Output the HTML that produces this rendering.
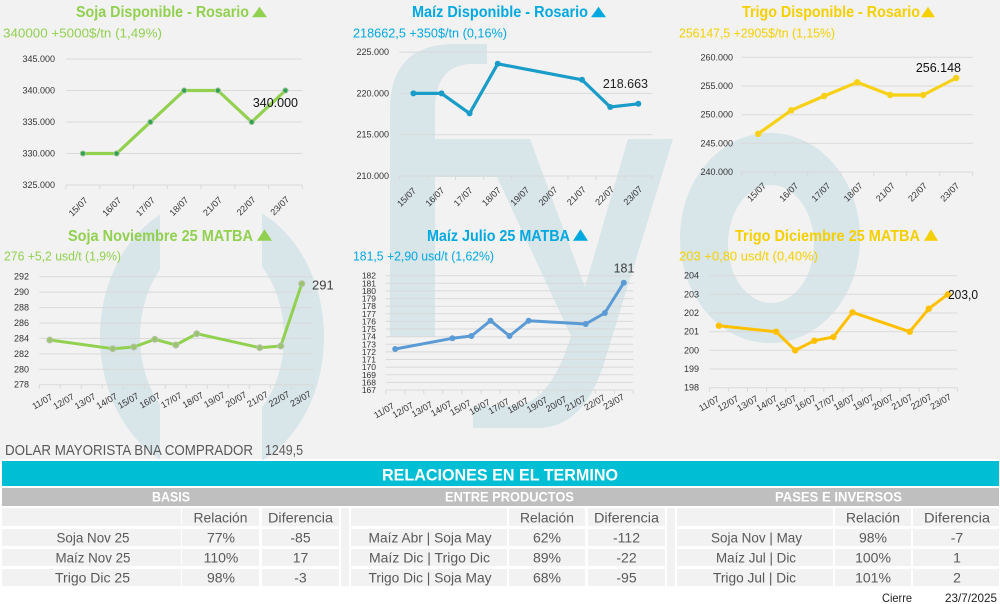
<!DOCTYPE html>
<html>
<head>
<meta charset="utf-8">
<style>
html,body{margin:0;padding:0;background:#fff;}
svg{display:block;}
text{font-family:"Liberation Sans",sans-serif;}
.ax{font-size:9px;fill:#333;}
.ax5{font-size:8.5px;fill:#333;}
.xl{font-size:9px;fill:#333;}
.grid{stroke:#d9d9d9;stroke-width:1;fill:none;}
.tt{font-size:16px;font-weight:bold;}
.st{font-size:13px;}
.cell{font-size:14px;fill:#595959;text-anchor:middle;}
.hd{font-size:14px;font-weight:bold;fill:#fff;text-anchor:middle;}
</style>
</head>
<body>
<svg width="1000" height="604" viewBox="0 0 1000 604">
<rect width="1000" height="604" fill="#fff"/>
<rect width="1000" height="459" fill="#f2f2f2"/>

<!-- watermark -->
<defs>
<clipPath id="cl"><rect x="0" y="200" width="160" height="260"/><rect x="262" y="200" width="80" height="260"/></clipPath>
</defs>
<g fill="#d8e5e9">
<path d="M390,337 L390,110 Q390,44 455,44 L487,44 L487,64 L470,64 Q435,66 435,110 L435,337 Z"/>
<path d="M435,139 L530,139 L585,287 L628,139 L673,139 L605,360 Q585,428 537,428 L473,428 L473,407 L520,405 Q552,398 571,336 L497,177 L435,177 Z"/>
<path fill-rule="evenodd" d="M680,238 a90,105 0 1,0 180,0 a90,105 0 1,0 -180,0 Z M728,244 a43,59 0 1,0 86,0 a43,59 0 1,0 -86,0 Z"/>
</g>
<ellipse cx="212" cy="337" rx="92" ry="118" fill="none" stroke="#d8e5e9" stroke-width="40" clip-path="url(#cl)"/>

<!-- ============ CHART 1 Soja Disponible ============ -->
<text class="tt" x="76" y="17" fill="#92d050" textLength="173" lengthAdjust="spacingAndGlyphs">Soja Disponible - Rosario</text>
<polygon points="252,17.3 267,17.3 259.5,6.7" fill="#92d050"/>
<text class="st" x="3" y="37.5" fill="#92d050" textLength="159" lengthAdjust="spacingAndGlyphs">340000 +5000$/tn (1,49%)</text>
<g class="grid">
<line x1="66" y1="59" x2="302.3" y2="59"/>
<line x1="66" y1="90.5" x2="302.3" y2="90.5"/>
<line x1="66" y1="122" x2="302.3" y2="122"/>
<line x1="66" y1="153.5" x2="302.3" y2="153.5"/>
<line x1="66" y1="185" x2="302.3" y2="185"/>
<path d="M66,185 v4 m33.76,-4 v4 m33.76,-4 v4 m33.76,-4 v4 m33.76,-4 v4 m33.76,-4 v4 m33.76,-4 v4 m33.76,-4 v4"/>
</g>
<g class="ax" text-anchor="end">
<text x="55" y="62">345.000</text>
<text x="55" y="93.5">340.000</text>
<text x="55" y="125">335.000</text>
<text x="55" y="156.5">330.000</text>
<text x="55" y="188">325.000</text>
</g>
<g class="xl" text-anchor="end">
<text transform="translate(88.3,201) rotate(-45)">15/07</text>
<text transform="translate(121.9,201) rotate(-45)">16/07</text>
<text transform="translate(155.5,200.8) rotate(-45)">17/07</text>
<text transform="translate(189.1,200.6) rotate(-45)">18/07</text>
<text transform="translate(222.7,200.4) rotate(-45)">21/07</text>
<text transform="translate(256.3,200.2) rotate(-45)">22/07</text>
<text transform="translate(289.9,200) rotate(-45)">23/07</text>
</g>
<polyline points="82.9,153.5 116.6,153.5 150.4,122 184.2,90.5 217.9,90.5 251.7,122 285.4,90.5" fill="none" stroke="#92d050" stroke-width="3.2" stroke-linejoin="round"/>
<g fill="#2ea04f" stroke="#a9c9a0" stroke-width="1">
<circle cx="82.9" cy="153.5" r="2.6"/><circle cx="116.6" cy="153.5" r="2.6"/><circle cx="150.4" cy="122" r="2.6"/><circle cx="184.2" cy="90.5" r="2.6"/><circle cx="217.9" cy="90.5" r="2.6"/><circle cx="251.7" cy="122" r="2.6"/><circle cx="285.4" cy="90.5" r="2.6"/>
</g>
<text x="298" y="107" font-size="12.5" fill="#111" text-anchor="end">340.000</text>

<!-- ============ CHART 2 Maiz Disponible ============ -->
<text class="tt" x="412" y="17" fill="#00a8e0" textLength="176" lengthAdjust="spacingAndGlyphs">Maíz Disponible - Rosario</text>
<polygon points="591,17.3 606,17.3 598.5,6.7" fill="#00a8e0"/>
<text class="st" x="353" y="37.5" fill="#00a8e0" textLength="154" lengthAdjust="spacingAndGlyphs">218662,5 +350$/tn (0,16%)</text>
<g class="grid">
<line x1="399.3" y1="52.1" x2="652.3" y2="52.1"/>
<line x1="399.3" y1="93.4" x2="652.3" y2="93.4"/>
<line x1="399.3" y1="134.7" x2="652.3" y2="134.7"/>
<line x1="399.3" y1="176" x2="652.3" y2="176"/>
<path d="M399.3,176 v4 m28.11,-4 v4 m28.11,-4 v4 m28.11,-4 v4 m28.11,-4 v4 m28.11,-4 v4 m28.11,-4 v4 m28.11,-4 v4 m28.11,-4 v4 m28.11,-4 v4"/>
</g>
<g class="ax" text-anchor="end">
<text x="389" y="55.1">225.000</text>
<text x="389" y="96.4">220.000</text>
<text x="389" y="137.7">215.000</text>
<text x="389" y="179">210.000</text>
</g>
<g class="xl" text-anchor="end">
<text transform="translate(416.7,191.3) rotate(-45)">15/07</text>
<text transform="translate(445,191.1) rotate(-45)">16/07</text>
<text transform="translate(473.3,190.9) rotate(-45)">17/07</text>
<text transform="translate(501.6,190.7) rotate(-45)">18/07</text>
<text transform="translate(529.9,190.5) rotate(-45)">19/07</text>
<text transform="translate(558.2,190.3) rotate(-45)">20/07</text>
<text transform="translate(586.5,190.1) rotate(-45)">21/07</text>
<text transform="translate(614.8,189.9) rotate(-45)">22/07</text>
<text transform="translate(643.1,189.7) rotate(-45)">23/07</text>
</g>
<polyline points="413.4,93.4 441.5,93.4 469.6,113.4 497.7,63.8 582,79.8 610.2,107 638.3,103.8" fill="none" stroke="#1a9cc9" stroke-width="3.2" stroke-linejoin="round"/>
<g fill="#1a9cc9">
<circle cx="413.4" cy="93.4" r="3"/><circle cx="441.5" cy="93.4" r="3"/><circle cx="469.6" cy="113.4" r="3"/><circle cx="497.7" cy="63.8" r="3"/><circle cx="582" cy="79.8" r="3"/><circle cx="610.2" cy="107" r="3"/><circle cx="638.3" cy="103.8" r="3"/>
</g>
<text x="648" y="88" font-size="12.5" fill="#222" text-anchor="end">218.663</text>

<!-- ============ CHART 3 Trigo Disponible ============ -->
<text class="tt" x="742" y="17" fill="#f5d000" textLength="178" lengthAdjust="spacingAndGlyphs">Trigo Disponible - Rosario</text>
<polygon points="921,17.3 935,17.3 928,6.7" fill="#f5d000"/>
<text class="st" x="679" y="37.5" fill="#f5d000" textLength="156" lengthAdjust="spacingAndGlyphs">256147,5 +2905$/tn (1,15%)</text>
<g class="grid">
<line x1="741.7" y1="57.3" x2="972.7" y2="57.3"/>
<line x1="741.7" y1="86" x2="972.7" y2="86"/>
<line x1="741.7" y1="114.7" x2="972.7" y2="114.7"/>
<line x1="741.7" y1="143.3" x2="972.7" y2="143.3"/>
<line x1="741.7" y1="172" x2="972.7" y2="172"/>
<path d="M741.7,172 v4 m33,-4 v4 m33,-4 v4 m33,-4 v4 m33,-4 v4 m33,-4 v4 m33,-4 v4 m33,-4 v4"/>
</g>
<g class="ax" text-anchor="end">
<text x="733" y="60.3">260.000</text>
<text x="733" y="89">255.000</text>
<text x="733" y="117.7">250.000</text>
<text x="733" y="146.3">245.000</text>
<text x="733" y="175">240.000</text>
</g>
<g class="xl" text-anchor="end">
<text transform="translate(766.7,186.3) rotate(-45)">15/07</text>
<text transform="translate(798.9,186.3) rotate(-45)">16/07</text>
<text transform="translate(831.1,186.3) rotate(-45)">17/07</text>
<text transform="translate(863.3,186.3) rotate(-45)">18/07</text>
<text transform="translate(895.5,186.3) rotate(-45)">21/07</text>
<text transform="translate(927.7,186.3) rotate(-45)">22/07</text>
<text transform="translate(959.9,186.3) rotate(-45)">23/07</text>
</g>
<polyline points="758.2,133.8 791.2,110.3 824.2,96 857.2,82.3 890.2,95 923.2,95 956.2,78" fill="none" stroke="#f7d117" stroke-width="3.2" stroke-linejoin="round"/>
<g fill="#f7d117">
<circle cx="758.2" cy="133.8" r="3.2"/><circle cx="791.2" cy="110.3" r="3.2"/><circle cx="824.2" cy="96" r="3.2"/><circle cx="857.2" cy="82.3" r="3.2"/><circle cx="890.2" cy="95" r="3.2"/><circle cx="923.2" cy="95" r="3.2"/><circle cx="956.2" cy="78" r="3.2"/>
</g>
<text x="961" y="72" font-size="12.5" fill="#111" text-anchor="end">256.148</text>

<!-- ============ CHART 4 Soja Noviembre ============ -->
<text class="tt" x="68" y="241" fill="#92d050" textLength="185" lengthAdjust="spacingAndGlyphs">Soja Noviembre 25 MATBA</text>
<polygon points="257,240.7 272,240.7 264.5,229.3" fill="#92d050"/>
<text class="st" x="4" y="260.5" fill="#92d050" textLength="117" lengthAdjust="spacingAndGlyphs">276 +5,2 usd/t (1,9%)</text>
<g class="grid">
<line x1="39.3" y1="276.7" x2="312.3" y2="276.7"/>
<line x1="39.3" y1="292.1" x2="312.3" y2="292.1"/>
<line x1="39.3" y1="307.6" x2="312.3" y2="307.6"/>
<line x1="39.3" y1="323" x2="312.3" y2="323"/>
<line x1="39.3" y1="338.4" x2="312.3" y2="338.4"/>
<line x1="39.3" y1="353.9" x2="312.3" y2="353.9"/>
<line x1="39.3" y1="369.3" x2="312.3" y2="369.3"/>
<line x1="39.3" y1="384.7" x2="312.3" y2="384.7"/>
<path d="M39.3,384.7 v4 m21,-4 v4 m21,-4 v4 m21,-4 v4 m21,-4 v4 m21,-4 v4 m21,-4 v4 m21,-4 v4 m21,-4 v4 m21,-4 v4 m21,-4 v4 m21,-4 v4 m21,-4 v4 m21,-4 v4"/>
</g>
<g class="ax" text-anchor="end">
<text x="29" y="279.7">292</text>
<text x="29" y="295.1">290</text>
<text x="29" y="310.6">288</text>
<text x="29" y="326">286</text>
<text x="29" y="341.4">284</text>
<text x="29" y="356.9">282</text>
<text x="29" y="372.3">280</text>
<text x="29" y="387.7">278</text>
</g>
<g class="xl" text-anchor="end">
<text transform="translate(53.3,398.7) rotate(-30)">11/07</text>
<text transform="translate(74.9,398.5) rotate(-30)">12/07</text>
<text transform="translate(96.4,398.2) rotate(-30)">13/07</text>
<text transform="translate(118,398) rotate(-30)">14/07</text>
<text transform="translate(139.5,397.7) rotate(-30)">15/07</text>
<text transform="translate(161.1,397.5) rotate(-30)">16/07</text>
<text transform="translate(182.6,397.2) rotate(-30)">17/07</text>
<text transform="translate(204.2,397) rotate(-30)">18/07</text>
<text transform="translate(225.7,396.7) rotate(-30)">19/07</text>
<text transform="translate(247.3,396.5) rotate(-30)">20/07</text>
<text transform="translate(268.8,396.2) rotate(-30)">21/07</text>
<text transform="translate(290.4,396) rotate(-30)">22/07</text>
<text transform="translate(311.9,395.7) rotate(-30)">23/07</text>
</g>
<polyline points="49.8,340 112.8,348.7 133.8,347 154.8,339.3 175.8,345 196.8,333.7 259.8,347.7 280.8,346 301.8,283.7" fill="none" stroke="#92d050" stroke-width="3" stroke-linejoin="round"/>
<g fill="#9cc36e" stroke="#b8c4b0" stroke-width="1">
<circle cx="49.8" cy="340" r="3"/><circle cx="112.8" cy="348.7" r="3"/><circle cx="133.8" cy="347" r="3"/><circle cx="154.8" cy="339.3" r="3"/><circle cx="175.8" cy="345" r="3"/><circle cx="196.8" cy="333.7" r="3"/><circle cx="259.8" cy="347.7" r="3"/><circle cx="280.8" cy="346" r="3"/><circle cx="301.8" cy="283.7" r="3"/>
</g>
<text x="312" y="289.7" font-size="13" fill="#404040">291</text>

<!-- ============ CHART 5 Maiz Julio ============ -->
<text class="tt" x="427" y="241" fill="#00a8e0" textLength="143" lengthAdjust="spacingAndGlyphs">Maíz Julio 25 MATBA</text>
<polygon points="573,240.7 588,240.7 580.5,229.3" fill="#00a8e0"/>
<text class="st" x="353" y="260.5" fill="#00a8e0" textLength="141" lengthAdjust="spacingAndGlyphs">181,5 +2,90 usd/t (1,62%)</text>
<g class="grid">
<line x1="385.7" y1="275.7" x2="633.3" y2="275.7"/>
<line x1="385.7" y1="283.3" x2="633.3" y2="283.3"/>
<line x1="385.7" y1="290.9" x2="633.3" y2="290.9"/>
<line x1="385.7" y1="298.6" x2="633.3" y2="298.6"/>
<line x1="385.7" y1="306.2" x2="633.3" y2="306.2"/>
<line x1="385.7" y1="313.8" x2="633.3" y2="313.8"/>
<line x1="385.7" y1="321.4" x2="633.3" y2="321.4"/>
<line x1="385.7" y1="329" x2="633.3" y2="329"/>
<line x1="385.7" y1="336.7" x2="633.3" y2="336.7"/>
<line x1="385.7" y1="344.3" x2="633.3" y2="344.3"/>
<line x1="385.7" y1="351.9" x2="633.3" y2="351.9"/>
<line x1="385.7" y1="359.5" x2="633.3" y2="359.5"/>
<line x1="385.7" y1="367.1" x2="633.3" y2="367.1"/>
<line x1="385.7" y1="374.8" x2="633.3" y2="374.8"/>
<line x1="385.7" y1="382.4" x2="633.3" y2="382.4"/>
<line x1="385.7" y1="390" x2="633.3" y2="390"/>
<path d="M385.7,390 v4 m19.05,-4 v4 m19.05,-4 v4 m19.05,-4 v4 m19.05,-4 v4 m19.05,-4 v4 m19.05,-4 v4 m19.05,-4 v4 m19.05,-4 v4 m19.05,-4 v4 m19.05,-4 v4 m19.05,-4 v4 m19.05,-4 v4 m19.05,-4 v4"/>
</g>
<g class="ax5" text-anchor="end">
<text x="376" y="278.7">182</text>
<text x="376" y="286.3">181</text>
<text x="376" y="293.9">180</text>
<text x="376" y="301.6">179</text>
<text x="376" y="309.2">178</text>
<text x="376" y="316.8">177</text>
<text x="376" y="324.4">176</text>
<text x="376" y="332">175</text>
<text x="376" y="339.7">174</text>
<text x="376" y="347.3">173</text>
<text x="376" y="354.9">172</text>
<text x="376" y="362.5">171</text>
<text x="376" y="370.1">170</text>
<text x="376" y="377.8">169</text>
<text x="376" y="385.4">168</text>
<text x="376" y="393">167</text>
</g>
<g class="xl" text-anchor="end">
<text transform="translate(395,407.7) rotate(-30)">11/07</text>
<text transform="translate(414.2,407) rotate(-30)">12/07</text>
<text transform="translate(433.3,406.2) rotate(-30)">13/07</text>
<text transform="translate(452.5,405.5) rotate(-30)">14/07</text>
<text transform="translate(471.7,404.7) rotate(-30)">15/07</text>
<text transform="translate(490.9,404) rotate(-30)">16/07</text>
<text transform="translate(510,403.2) rotate(-30)">17/07</text>
<text transform="translate(529.2,402.5) rotate(-30)">18/07</text>
<text transform="translate(548.4,401.7) rotate(-30)">19/07</text>
<text transform="translate(567.5,401) rotate(-30)">20/07</text>
<text transform="translate(586.7,400.2) rotate(-30)">21/07</text>
<text transform="translate(605.9,399.5) rotate(-30)">22/07</text>
<text transform="translate(625,398.7) rotate(-30)">23/07</text>
</g>
<polyline points="395.2,349 452.4,338.3 471.4,336 490.5,320.7 509.5,336 528.6,320.7 585.7,324 604.8,313 623.8,282.7" fill="none" stroke="#5b9bd5" stroke-width="3" stroke-linejoin="round"/>
<g fill="#5b9bd5">
<circle cx="395.2" cy="349" r="3"/><circle cx="452.4" cy="338.3" r="3"/><circle cx="471.4" cy="336" r="3"/><circle cx="490.5" cy="320.7" r="3"/><circle cx="509.5" cy="336" r="3"/><circle cx="528.6" cy="320.7" r="3"/><circle cx="585.7" cy="324" r="3"/><circle cx="604.8" cy="313" r="3"/><circle cx="623.8" cy="282.7" r="3"/>
</g>
<text x="624" y="272.5" font-size="12.5" fill="#404040" text-anchor="middle">181</text>

<!-- ============ CHART 6 Trigo Diciembre ============ -->
<text class="tt" x="735" y="241" fill="#f5d000" textLength="185" lengthAdjust="spacingAndGlyphs">Trigo Diciembre 25 MATBA</text>
<polygon points="924,240.7 938,240.7 931,229.3" fill="#f5d000"/>
<text class="st" x="679" y="260.5" fill="#f5d000" textLength="139" lengthAdjust="spacingAndGlyphs">203 +0,80 usd/t (0,40%)</text>
<g class="grid">
<line x1="709.3" y1="275.7" x2="957.3" y2="275.7"/>
<line x1="709.3" y1="294.3" x2="957.3" y2="294.3"/>
<line x1="709.3" y1="313" x2="957.3" y2="313"/>
<line x1="709.3" y1="331.7" x2="957.3" y2="331.7"/>
<line x1="709.3" y1="350.3" x2="957.3" y2="350.3"/>
<line x1="709.3" y1="369" x2="957.3" y2="369"/>
<line x1="709.3" y1="387.7" x2="957.3" y2="387.7"/>
<path d="M709.3,387.7 v4 m19.08,-4 v4 m19.08,-4 v4 m19.08,-4 v4 m19.08,-4 v4 m19.08,-4 v4 m19.08,-4 v4 m19.08,-4 v4 m19.08,-4 v4 m19.08,-4 v4 m19.08,-4 v4 m19.08,-4 v4 m19.08,-4 v4 m19.08,-4 v4"/>
</g>
<g class="ax" text-anchor="end">
<text x="699" y="278.7">204</text>
<text x="699" y="297.3">203</text>
<text x="699" y="316">202</text>
<text x="699" y="334.7">201</text>
<text x="699" y="353.3">200</text>
<text x="699" y="372">199</text>
<text x="699" y="390.7">198</text>
</g>
<g class="xl" text-anchor="end">
<text transform="translate(720,400.7) rotate(-30)">11/07</text>
<text transform="translate(739.3,400.5) rotate(-30)">12/07</text>
<text transform="translate(758.7,400.4) rotate(-30)">13/07</text>
<text transform="translate(778,400.2) rotate(-30)">14/07</text>
<text transform="translate(797.3,400) rotate(-30)">15/07</text>
<text transform="translate(816.7,399.9) rotate(-30)">16/07</text>
<text transform="translate(836,399.7) rotate(-30)">17/07</text>
<text transform="translate(855.3,399.5) rotate(-30)">18/07</text>
<text transform="translate(874.6,399.3) rotate(-30)">19/07</text>
<text transform="translate(894,399.2) rotate(-30)">20/07</text>
<text transform="translate(913.3,399) rotate(-30)">21/07</text>
<text transform="translate(932.6,398.8) rotate(-30)">22/07</text>
<text transform="translate(952,398.7) rotate(-30)">23/07</text>
</g>
<polyline points="718.9,325.7 776.1,331.7 795.2,350.3 814.3,340.7 833.4,337 852.5,312.3 909.7,331.7 928.8,308.7 947.9,294.3" fill="none" stroke="#ffc000" stroke-width="3" stroke-linejoin="round"/>
<g fill="#ffc000">
<circle cx="718.9" cy="325.7" r="3.2"/><circle cx="776.1" cy="331.7" r="3.2"/><circle cx="795.2" cy="350.3" r="3.2"/><circle cx="814.3" cy="340.7" r="3.2"/><circle cx="833.4" cy="337" r="3.2"/><circle cx="852.5" cy="312.3" r="3.2"/><circle cx="909.7" cy="331.7" r="3.2"/><circle cx="928.8" cy="308.7" r="3.2"/><circle cx="947.9" cy="294.3" r="3.2"/>
</g>
<text x="948" y="299" font-size="13" fill="#111" textLength="30" lengthAdjust="spacingAndGlyphs">203,0</text>

<!-- DOLAR -->
<text x="5" y="455" font-size="15" fill="#595959" textLength="248" lengthAdjust="spacingAndGlyphs">DOLAR MAYORISTA BNA COMPRADOR</text>
<text x="265" y="455" font-size="15" fill="#595959" textLength="38" lengthAdjust="spacingAndGlyphs">1249,5</text>

<!-- ============ TABLE ============ -->
<rect x="2" y="461" width="997" height="25" fill="#00bed4"/>
<text x="500" y="480.7" font-size="17" font-weight="bold" fill="#fff" text-anchor="middle" textLength="236" lengthAdjust="spacingAndGlyphs">RELACIONES EN EL TERMINO</text>
<rect x="2" y="488" width="997" height="18" fill="#bfbfbf"/>
<text class="hd" x="171" y="501.7" textLength="38" lengthAdjust="spacingAndGlyphs">BASIS</text>
<text class="hd" x="509.5" y="501.7" textLength="129" lengthAdjust="spacingAndGlyphs">ENTRE PRODUCTOS</text>
<text class="hd" x="838.5" y="501.7" textLength="127" lengthAdjust="spacingAndGlyphs">PASES E INVERSOS</text>

<g fill="#f2f2f2">
<!-- left -->
<rect x="2" y="508" width="179" height="18"/><rect x="182" y="508" width="77" height="18"/><rect x="262" y="508" width="77" height="18"/>
<rect x="2" y="529" width="179" height="17"/><rect x="182" y="529" width="77" height="17"/><rect x="262" y="529" width="77" height="17"/>
<rect x="2" y="549" width="179" height="17"/><rect x="182" y="549" width="77" height="17"/><rect x="262" y="549" width="77" height="17"/>
<rect x="2" y="569" width="179" height="17"/><rect x="182" y="569" width="77" height="17"/><rect x="262" y="569" width="77" height="17"/>
<rect x="341" y="508" width="8" height="78"/>
<!-- middle -->
<rect x="351" y="508" width="156" height="18"/><rect x="509" y="508" width="76" height="18"/><rect x="588" y="508" width="77" height="18"/>
<rect x="351" y="529" width="156" height="17"/><rect x="509" y="529" width="76" height="17"/><rect x="588" y="529" width="77" height="17"/>
<rect x="351" y="549" width="156" height="17"/><rect x="509" y="549" width="76" height="17"/><rect x="588" y="549" width="77" height="17"/>
<rect x="351" y="569" width="156" height="17"/><rect x="509" y="569" width="76" height="17"/><rect x="588" y="569" width="77" height="17"/>
<rect x="667" y="508" width="8" height="78"/>
<!-- right -->
<rect x="677" y="508" width="156" height="18"/><rect x="835" y="508" width="76" height="18"/><rect x="913" y="508" width="86" height="18"/>
<rect x="677" y="529" width="156" height="17"/><rect x="835" y="529" width="76" height="17"/><rect x="913" y="529" width="86" height="17"/>
<rect x="677" y="549" width="156" height="17"/><rect x="835" y="549" width="76" height="17"/><rect x="913" y="549" width="86" height="17"/>
<rect x="677" y="569" width="156" height="17"/><rect x="835" y="569" width="76" height="17"/><rect x="913" y="569" width="86" height="17"/>
</g>

<!-- left table text -->
<text class="cell" x="220.5" y="522.5" textLength="54" lengthAdjust="spacingAndGlyphs">Relación</text>
<text class="cell" x="300.5" y="522.5" textLength="65" lengthAdjust="spacingAndGlyphs">Diferencia</text>
<text class="cell" x="93" y="542.5" textLength="73" lengthAdjust="spacingAndGlyphs">Soja Nov 25</text>
<text class="cell" x="221" y="542.5">77%</text>
<text class="cell" x="300.5" y="542.5">-85</text>
<text class="cell" x="93" y="562.5" textLength="75" lengthAdjust="spacingAndGlyphs">Maíz Nov 25</text>
<text class="cell" x="221" y="562.5">110%</text>
<text class="cell" x="300.5" y="562.5">17</text>
<text class="cell" x="92.5" y="582.5" textLength="75" lengthAdjust="spacingAndGlyphs">Trigo Dic 25</text>
<text class="cell" x="221" y="582.5">98%</text>
<text class="cell" x="300.5" y="582.5">-3</text>

<!-- middle table text -->
<text class="cell" x="547" y="522.5" textLength="54" lengthAdjust="spacingAndGlyphs">Relación</text>
<text class="cell" x="626.5" y="522.5" textLength="65" lengthAdjust="spacingAndGlyphs">Diferencia</text>
<text class="cell" x="430" y="542.5" textLength="123" lengthAdjust="spacingAndGlyphs">Maíz Abr | Soja May</text>
<text class="cell" x="547" y="542.5">62%</text>
<text class="cell" x="626.5" y="542.5">-112</text>
<text class="cell" x="429.5" y="562.5" textLength="121" lengthAdjust="spacingAndGlyphs">Maíz Dic | Trigo Dic</text>
<text class="cell" x="547" y="562.5">89%</text>
<text class="cell" x="626.5" y="562.5">-22</text>
<text class="cell" x="430" y="582.5" textLength="123" lengthAdjust="spacingAndGlyphs">Trigo Dic | Soja May</text>
<text class="cell" x="547" y="582.5">68%</text>
<text class="cell" x="626.5" y="582.5">-95</text>

<!-- right table text -->
<text class="cell" x="873" y="522.5" textLength="54" lengthAdjust="spacingAndGlyphs">Relación</text>
<text class="cell" x="957" y="522.5" textLength="66" lengthAdjust="spacingAndGlyphs">Diferencia</text>
<text class="cell" x="756.5" y="542.5" textLength="91" lengthAdjust="spacingAndGlyphs">Soja Nov | May</text>
<text class="cell" x="873" y="542.5">98%</text>
<text class="cell" x="957" y="542.5">-7</text>
<text class="cell" x="756" y="562.5" textLength="80" lengthAdjust="spacingAndGlyphs">Maíz Jul | Dic</text>
<text class="cell" x="873" y="562.5">100%</text>
<text class="cell" x="957" y="562.5">1</text>
<text class="cell" x="754.5" y="582.5" textLength="83" lengthAdjust="spacingAndGlyphs">Trigo Jul | Dic</text>
<text class="cell" x="873" y="582.5">101%</text>
<text class="cell" x="957" y="582.5">2</text>

<text x="882" y="602" font-size="12" fill="#222" textLength="30" lengthAdjust="spacingAndGlyphs">Cierre</text>
<text x="945" y="602" font-size="12" fill="#222" textLength="52" lengthAdjust="spacingAndGlyphs">23/7/2025</text>
</svg>
</body>
</html>
